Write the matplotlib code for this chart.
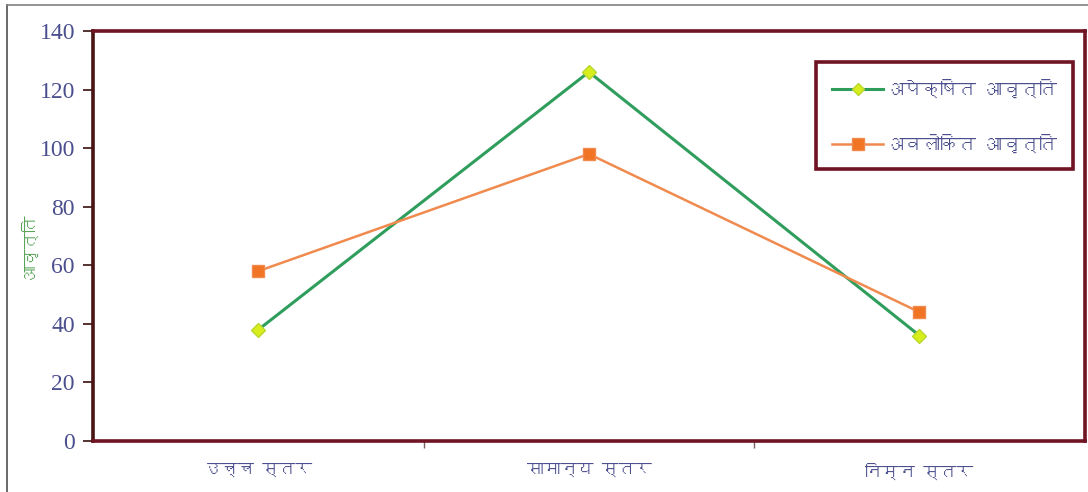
import matplotlib
matplotlib.use('Agg')
import matplotlib.pyplot as plt
from matplotlib import font_manager
from matplotlib.ft2font import FT2Font
from matplotlib.lines import Line2D

categories = ['उच्च स्तर', 'सामान्य स्तर', 'निम्न स्तर']
expected = [38, 126, 36]
observed = [58, 98, 44]
series_names = ['अपेक्षित आवृत्ति', 'अवलोकित आवृत्ति']
y_label = 'आवृत्ति'
y_ticks = [0, 20, 40, 60, 80, 100, 120, 140]


def find_devanagari_font():
    # look for any installed font that has Devanagari glyphs
    for f in font_manager.fontManager.ttflist:
        try:
            if 0x0915 in FT2Font(f.fname).get_charmap():
                return f.name
        except Exception:
            continue
    return None


deva = find_devanagari_font()
text_fonts = ([deva] if deva else []) + ['DejaVu Sans']
num_fonts = ['Liberation Serif'] + text_fonts

frame_col = '#6e1423'
label_col = '#4b4f8e'

fig = plt.figure(figsize=(10.88, 4.92), dpi=100)
ax = fig.add_axes([0.0855, 0.1037, 0.9115, 0.8333])

x = list(range(len(categories)))
ax.plot(x, expected, color='#2f9e5c', linewidth=2.2, marker='D', markersize=7,
        markerfacecolor='#d8ee1c', markeredgecolor='#b8d830', markeredgewidth=1,
        label=series_names[0], zorder=3)
ax.plot(x, observed, color='#f08a4e', linewidth=1.8, marker='s', markersize=9,
        markerfacecolor='#f07424', markeredgecolor='#f08a4e', markeredgewidth=1,
        label=series_names[1], zorder=3)

ax.set_xlim(-0.5, 2.5)
ax.set_ylim(0, 140)
ax.set_yticks(y_ticks)
ax.set_yticklabels([str(v) for v in y_ticks], family=num_fonts, fontsize=17, color=label_col)

# category labels in the middle, small tick marks on the boundaries
ax.set_xticks([0.5, 1.5])
ax.set_xticklabels([])
ax.set_xticks(x, minor=True)
ax.set_xticklabels(categories, minor=True, family=text_fonts, fontsize=12, color=label_col)
ax.tick_params(axis='x', which='major', length=5, width=1, color='#7a6060', direction='out')
ax.tick_params(axis='x', which='minor', length=0, pad=16)
ax.tick_params(axis='y', length=7, width=1.2, color='#3a1010', pad=6)

for s in ax.spines.values():
    s.set_color(frame_col)
    s.set_linewidth(2.6)
ax.spines['left'].set_color('#4a1414')

ax.set_ylabel(y_label, family=text_fonts, fontsize=12, color='#5aa55a')
ax.yaxis.set_label_coords(-0.057, 0.475)

handles = [
    Line2D([], [], color='#2f9e5c', linewidth=2.2, marker='D', markersize=6,
           markerfacecolor='#d8ee1c', markeredgecolor='#b8d830'),
    Line2D([], [], color='#f08a4e', linewidth=1.8, marker='s', markersize=8,
           markerfacecolor='#f07424', markeredgecolor='#f08a4e'),
]
leg = ax.legend(handles, series_names, loc='upper right',
                bbox_to_anchor=(0.988, 0.924), borderaxespad=0,
                prop={'family': text_fonts, 'size': 13}, labelcolor=label_col,
                frameon=True, fancybox=False, framealpha=1, handlelength=2.8,
                handletextpad=0.15, labelspacing=2.0, borderpad=0.9)
leg.get_frame().set_edgecolor(frame_col)
leg.get_frame().set_linewidth(2.6)

# thin border around the picture (left and top)
fig.add_artist(Line2D([0.0065, 0.0065], [0, 0.99], color='#505050', linewidth=1.2))
fig.add_artist(Line2D([0.0065, 1.0], [0.99, 0.99], color='#808080', linewidth=1.2))

plt.savefig('out.png', dpi=100)
